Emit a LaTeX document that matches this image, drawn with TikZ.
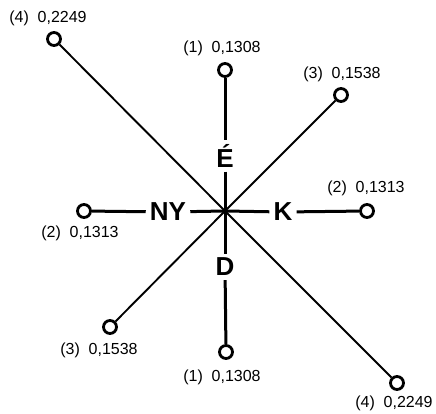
\documentclass[tikz,border=0pt]{standalone}
\usepackage{fontspec}
\setmainfont{Liberation Sans}
\begin{document}
\begin{tikzpicture}[x=1pt, y=-1pt,
  kor/.style={circle, draw, line width=2.8pt, minimum size=13pt, inner sep=0pt},
  betu/.style={font=\fontsize{26}{30}\selectfont\bfseries, inner sep=4pt},
  ertek/.style={font=\fontsize{16}{19}\selectfont, inner sep=0pt},
  vastag/.style={line width=3pt},
  vekony/.style={line width=1.9pt}]
  \useasboundingbox (0,0) rectangle (436,414);

  % Nodos
  \coordinate (O) at (225,211);
  \node[betu] (E) at (225,156) {É};
  \node[betu] (D) at (225,267) {D};
  \node[betu] (NY) at (168,212) {NY};
  \node[betu] (K) at (283,212) {K};

  \node[kor] (e1) at (225,70) {};
  \node[kor] (d1) at (226,352) {};
  \node[kor] (ny2) at (84,211) {};
  \node[kor] (k2) at (367,211) {};
  \node[kor] (ek3) at (341,95) {};
  \node[kor] (dny3) at (110,327) {};
  \node[kor] (eny4) at (54,39) {};
  \node[kor] (dk4) at (397,383) {};

  \node[ertek] (le1) at (222,48) {(1)\hspace{0.55em}0,1308};
  \node[ertek] (ld1) at (222,377) {(1)\hspace{0.55em}0,1308};
  \node[ertek] (lny2) at (80,233) {(2)\hspace{0.55em}0,1313};
  \node[ertek] (lk2) at (366,188) {(2)\hspace{0.55em}0,1313};
  \node[ertek] (lek3) at (342,74) {(3)\hspace{0.55em}0,1538};
  \node[ertek] (ldny3) at (99,350) {(3)\hspace{0.55em}0,1538};
  \node[ertek] (leny4) at (48,18) {(4)\hspace{0.55em}0,2249};
  \node[ertek] (ldk4) at (394,403) {(4)\hspace{0.55em}0,2249};

  % Vonalak
  \draw[vastag] (e1) -- (E);
  \draw[vastag] (E) -- (O) -- (D);
  \draw[vastag] (D) -- (d1);
  \draw[vastag] (ny2) -- (NY);
  \draw[vastag] (NY) -- (O) -- (K);
  \draw[vastag] (K) -- (k2);
  \draw[vekony] (eny4) -- (O) -- (dk4);
  \draw[vekony] (ek3) -- (O) -- (dny3);
\end{tikzpicture}
\end{document}
